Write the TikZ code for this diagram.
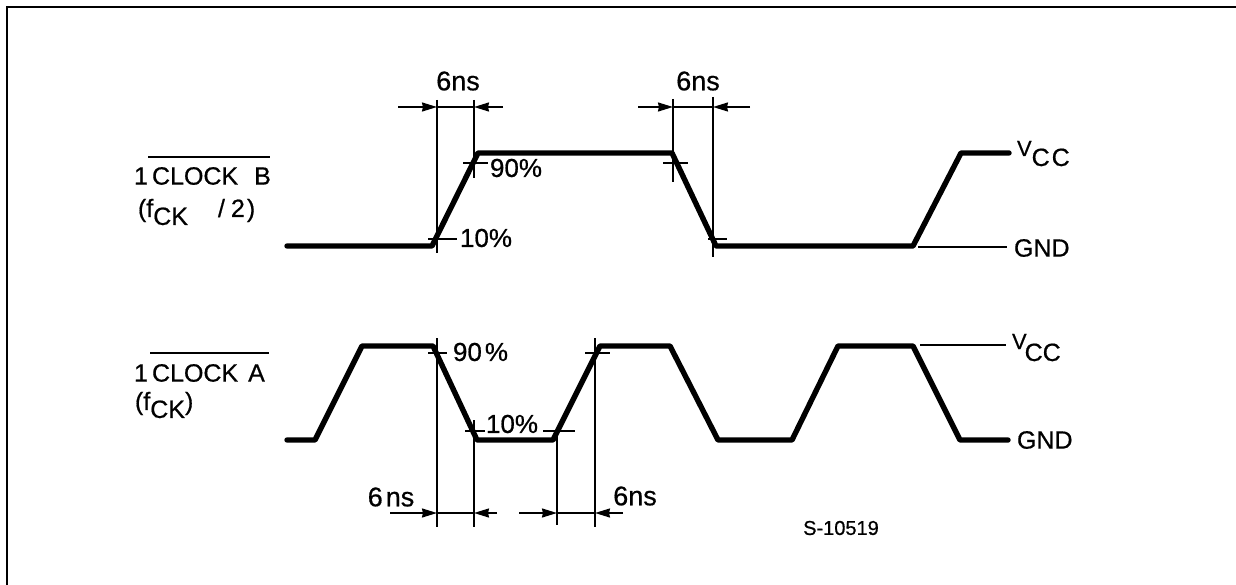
\documentclass[tikz,border=0pt]{standalone}
\usepackage{fontspec}
\setmainfont[FakeBold=0.6]{Liberation Sans}
\usetikzlibrary{arrows.meta}
\newcommand{\fa}{\fontsize{25}{25}\selectfont}
\newcommand{\fb}{\fontsize{27}{27}\selectfont}
\newcommand{\fc}{\fontsize{26}{26}\selectfont}
\newcommand{\fd}{\fontsize{20}{20}\selectfont}
\newcommand{\fv}{\fontsize{22}{22}\selectfont}
\tikzset{
  wave/.style={line width=5.4pt,line cap=round,line join=round},
  thin line/.style={line width=1.8pt},
  dimline/.style={line width=1.8pt,-{Stealth[length=15pt,width=9pt,inset=1pt]}},
  lab/.style={inner sep=0pt,outer sep=0pt,font=\fa},
  pct/.style={inner sep=0pt,outer sep=0pt,anchor=west,font=\fc},
}
\begin{document}
\begin{tikzpicture}[x=1pt,y=-1pt]
\useasboundingbox (0,0) rectangle (1236,585);
\fill[white] (0,0) rectangle (1236,585);
% frame
\coordinate (fb) at (7,585); \coordinate (fc) at (7,7); \coordinate (fr) at (1236,7);
\draw[line width=2pt] (fb) -- (fc) -- (fr);
% waveform B
\coordinate (b0) at (287,246); \coordinate (b1) at (432,246); \coordinate (b2) at (478,153);
\coordinate (b3) at (672,153); \coordinate (b4) at (716,246); \coordinate (b5) at (913,246);
\coordinate (b6) at (961,153); \coordinate (b7) at (1009,153);
\draw[wave] (b0) -- (b1) -- (b2) -- (b3) -- (b4) -- (b5) -- (b6) -- (b7);
% waveform A
\coordinate (a0) at (287,440); \coordinate (a1) at (315,440); \coordinate (a2) at (362,346);
\coordinate (a3) at (433,346); \coordinate (a4) at (477,440); \coordinate (a5) at (553,440);
\coordinate (a6) at (600,346); \coordinate (a7) at (670,346); \coordinate (a8) at (718,440);
\coordinate (a9) at (792,440); \coordinate (a10) at (838,346); \coordinate (a11) at (913,346);
\coordinate (a12) at (960,440); \coordinate (a13) at (1008,440);
\draw[wave] (a0) -- (a1) -- (a2) -- (a3) -- (a4) -- (a5) -- (a6) -- (a7) -- (a8) -- (a9) -- (a10) -- (a11) -- (a12) -- (a13);
% reference lines
\coordinate (gb1) at (918,247); \coordinate (gb2) at (1007,247);
\coordinate (va1) at (920,345); \coordinate (va2) at (1006,345);
\draw[thin line] (gb1) -- (gb2);
\draw[thin line] (va1) -- (va2);
% verticals B
\coordinate (v1t) at (437,100); \coordinate (v1b) at (437,253);
\coordinate (v2t) at (474,100); \coordinate (v2b) at (474,178);
\coordinate (v3t) at (673,99); \coordinate (v3b) at (673,182);
\coordinate (v4t) at (713,97); \coordinate (v4b) at (713,257);
\draw[thin line] (v1t) -- (v1b); \draw[thin line] (v2t) -- (v2b);
\draw[thin line] (v3t) -- (v3b); \draw[thin line] (v4t) -- (v4b);
% verticals A
\coordinate (w1t) at (437,338); \coordinate (w1b) at (437,527);
\coordinate (w2t) at (474,420); \coordinate (w2b) at (474,527);
\coordinate (w3t) at (557,430); \coordinate (w3b) at (557,525);
\coordinate (w4t) at (595,338); \coordinate (w4b) at (595,527);
\draw[thin line] (w1t) -- (w1b); \draw[thin line] (w2t) -- (w2b);
\draw[thin line] (w3t) -- (w3b); \draw[thin line] (w4t) -- (w4b);
% dimensions top
\coordinate (d1a) at (398,107); \coordinate (d1b) at (437,107); \coordinate (d1c) at (474,107); \coordinate (d1d) at (503,107);
\draw[dimline] (d1a) -- (d1b); \draw[dimline] (d1d) -- (d1c); \draw[thin line] (d1b) -- (d1c);
\coordinate (d2a) at (638,107); \coordinate (d2b) at (673,107); \coordinate (d2c) at (713,107); \coordinate (d2d) at (750,107);
\draw[dimline] (d2a) -- (d2b); \draw[dimline] (d2d) -- (d2c); \draw[thin line] (d2b) -- (d2c);
% dimensions bottom
\coordinate (d3a) at (390,513); \coordinate (d3b) at (437,513); \coordinate (d3c) at (474,513); \coordinate (d3d) at (497,513);
\draw[dimline] (d3a) -- (d3b); \draw[dimline] (d3d) -- (d3c); \draw[thin line] (d3b) -- (d3c);
\coordinate (d4a) at (519,513); \coordinate (d4b) at (557,513); \coordinate (d4c) at (595,513); \coordinate (d4d) at (623,513);
\draw[dimline] (d4a) -- (d4b); \draw[dimline] (d4d) -- (d4c); \draw[thin line] (d4b) -- (d4c);
% level ticks
\coordinate (t1a) at (463,163); \coordinate (t1b) at (488,163); \draw[thin line] (t1a) -- (t1b);
\coordinate (t2a) at (428,239); \coordinate (t2b) at (457,239); \draw[thin line] (t2a) -- (t2b);
\coordinate (t3a) at (663,163); \coordinate (t3b) at (688,163); \draw[thin line] (t3a) -- (t3b);
\coordinate (t4a) at (708,239); \coordinate (t4b) at (727,239); \draw[thin line] (t4a) -- (t4b);
\coordinate (t5a) at (428,353); \coordinate (t5b) at (447,353); \draw[thin line] (t5a) -- (t5b);
\coordinate (t6a) at (585,353); \coordinate (t6b) at (610,353); \draw[thin line] (t6a) -- (t6b);
\coordinate (t7a) at (465,431); \coordinate (t7b) at (485,431); \draw[thin line] (t7a) -- (t7b);
\coordinate (t8a) at (543,431); \coordinate (t8b) at (575,431); \draw[thin line] (t8a) -- (t8b);
% labels
\node[lab,font=\fb] (n1) at (458,81) {6ns};
\node[lab,font=\fb] (n2) at (698,81) {6ns};
\node[lab,font=\fb] (n3) at (391,497) {6\kern3pt ns};
\node[lab,font=\fb] (n4) at (635,496) {6ns};
\node[pct] (p1) at (490,168) {90\%};
\node[pct] (p2) at (460,238) {10\%};
\node[pct] (p3) at (453,352) {90\kern3pt\%};
\node[pct] (p4) at (486,424) {10\%};
\node[lab,anchor=base west] (vcc1) at (1017,156) {{\fv V}\raisebox{-10pt}{C\kern2pt C}};
\node[lab,anchor=base west] (vcc2) at (1012,349) {{\fv V}\kern-2pt\raisebox{-12pt}{CC}};
\node[lab,anchor=west] (g1) at (1014,248) {GND};
\node[lab,anchor=west] (g2) at (1017,440) {GND};
\node[lab,anchor=center,font=\fd] (sn) at (841,528) {S-10519};
\node[lab,anchor=west] (ckb) at (134,176) {1\,CLOCK\kern16pt B};
\node[lab,anchor=west] (ckbf) at (138,212) {(f\raisebox{-8pt}{CK}\kern30pt/\kern6pt2\kern2pt)};
\node[lab,anchor=west] (cka) at (134,373) {1\,CLOCK\kern10pt A};
\node[lab,anchor=west] (ckaf) at (135,405) {(f\raisebox{-8pt}{CK})};
\coordinate (o1a) at (148,157); \coordinate (o1b) at (270,157); \draw[line width=1.6pt] (o1a) -- (o1b);
\coordinate (o2a) at (150,353); \coordinate (o2b) at (269,353); \draw[line width=1.6pt] (o2a) -- (o2b);
\end{tikzpicture}
\end{document}
